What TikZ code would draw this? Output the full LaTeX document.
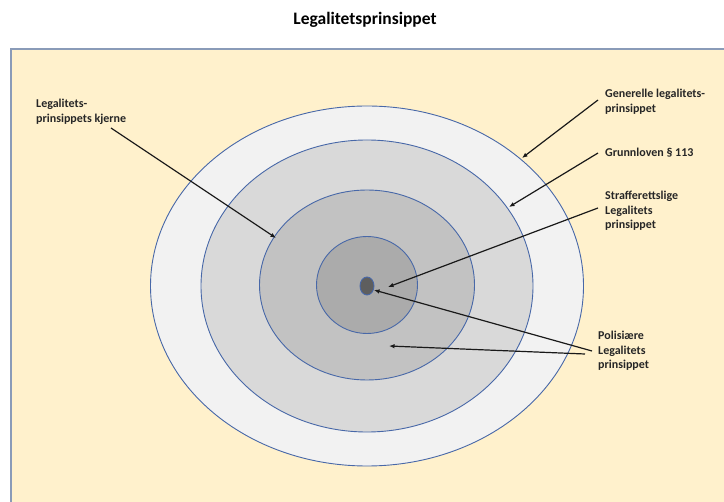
\documentclass[tikz,border=0pt]{standalone}
\usepackage{fontspec}
\setmainfont{Carlito}
\usetikzlibrary{shapes.geometric,arrows.meta}
\definecolor{bgy}{HTML}{FFF1CC}
\definecolor{framec}{HTML}{8A9BB8}
\definecolor{ringc}{HTML}{4868A8}
\definecolor{g1}{HTML}{F2F2F2}
\definecolor{g2}{HTML}{D9D9D9}
\definecolor{g3}{HTML}{C2C2C2}
\definecolor{g4}{HTML}{ABABAB}
\definecolor{g5}{HTML}{5E5E5E}
\tikzset{
  ring/.style={ellipse, draw=ringc, line width=0.9pt, inner sep=0pt},
  lab/.style={font=\bfseries\fontsize{12}{14.6}\selectfont, align=left, anchor=north west, inner sep=0pt, text=black!85},
  arr/.style={draw=black!90, line width=1.2pt, -{Latex[length=5.5pt,width=4.5pt]}}
}
\begin{document}
\begin{tikzpicture}[x=1pt,y=-1pt]
\useasboundingbox (0,0) rectangle (724,502);
\fill[white] (0,0) rectangle (724,502);
\draw[framec, line width=2pt, fill=bgy] (11,49) rectangle (740,520);
\node[font=\bfseries\fontsize{17.5}{20}\selectfont] (title) at (365,20) {Legalitetsprinsippet};
% rings
\node[ring, fill=g1, minimum width=433pt, minimum height=360pt] (r1) at (367,286) {};
\node[ring, fill=g2, minimum width=332pt, minimum height=292pt] (r2) at (367,286) {};
\node[ring, fill=g3, minimum width=215pt, minimum height=190pt] (r3) at (367,285) {};
\node[ring, fill=g4, minimum width=101pt, minimum height=97pt] (r4) at (367,285) {};
\node[ring, fill=g5, minimum width=14pt, minimum height=18pt] (r5) at (367,286) {};
% labels
\node[lab] (lk) at (36,99) {Legalitets-\\prinsippets kjerne};
\node[lab] (lg) at (605,89) {Generelle legalitets-\\prinsippet};
\node[lab] (lgr) at (605,148) {Grunnloven § 113};
\node[lab] (ls) at (605,191) {Strafferettslige\\Legalitets\\prinsippet};
\node[lab] (lp) at (598,331) {Polisiære\\Legalitets\\prinsippet};
% arrow points
\coordinate (ak0) at (111,128); \coordinate (ak1) at (276,238);
\coordinate (ag0) at (598,100); \coordinate (ag1) at (522,158);
\coordinate (agr0) at (598,153); \coordinate (agr1) at (509,207);
\coordinate (as0) at (598,208); \coordinate (as1) at (388,287);
\coordinate (ap0) at (592,351); \coordinate (ap1) at (374,290);
\coordinate (aq0) at (585,354); \coordinate (aq1) at (389,346);
\draw[arr] (ak0) -- (ak1);
\draw[arr] (ag0) -- (ag1);
\draw[arr] (agr0) -- (agr1);
\draw[arr] (as0) -- (as1);
\draw[arr] (ap0) -- (ap1);
\draw[arr] (aq0) -- (aq1);
\end{tikzpicture}
\end{document}
